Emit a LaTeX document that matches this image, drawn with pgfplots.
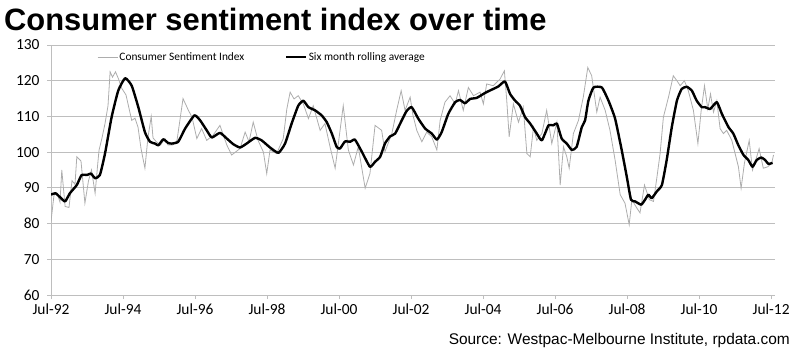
\documentclass[border=0pt]{standalone}
\usepackage{fontspec}
\setmainfont{Carlito}
\newfontfamily\arial{Liberation Sans}
\usepackage{pgfplots}
\pgfplotsset{compat=1.18}
\definecolor{gridc}{HTML}{BEBEBE}
\definecolor{csi}{HTML}{ADADAD}
\begin{document}
\begin{tikzpicture}[x=1bp,y=1bp]
\useasboundingbox (0,0) rectangle (800,354);
\begin{axis}[at={(51bp,59bp)}, anchor=south west, scale only axis,
  width=724bp, height=250bp,
  xmin=0, xmax=241.3, ymin=60, ymax=130,
  axis x line*=bottom, axis y line*=left,
  axis line style={gridc, line width=0.8bp},
  ytick={60,70,...,130}, ymajorgrids, grid style={gridc, line width=0.8bp},
  xtick={0,24,...,240},
  xticklabels={Jul-92,Jul-94,Jul-96,Jul-98,Jul-00,Jul-02,Jul-04,Jul-06,Jul-08,Jul-10,Jul-12},
  tick align=outside, major tick length=4bp,
  tick style={gridc, line width=0.8bp},
  /pgf/number format/assume math mode=true,
  tick label style={font=\fontsize{15.5}{17}\selectfont, black},
  yticklabel style={xshift=-4bp},
  xticklabel style={yshift=-1bp},
  legend columns=2,
  legend style={at={(rel axis cs:0.0635,0.952)}, anchor=west, draw=none, fill=none,
    font=\fontsize{11.4}{13}\selectfont, inner sep=0pt,
    nodes={inner sep=1.5bp},
    /tikz/every even column/.append style={column sep=39bp}},
  legend image code/.code={\draw[#1] (0bp,0bp) -- (20bp,0bp);},
]
\addplot[csi, line width=0.8bp] coordinates {
(0,80.6)(1,88)(2,88.5)(3,86)(3.6,95)(4.7,84.8)(6,84.5)(7,92)(8,91)(8.6,98.7)(10,97.5)(11.3,85.7)(12.5,92)(13.5,95)(14.7,88.5)(15.5,96)(16,100.5)(17,104)(18,108)(19,113)(19.7,122.5)(20.5,121)(21.5,122.5)(22.5,120.5)(23.5,118)(25,116)(26.9,108.9)(28,109.5)(29,107)(30,101)(31.3,95.5)(32.3,104)(33.4,110)(34,104)(35,103)(36.5,102)(38,103.8)(39,102)(40.5,102)(42,103.3)(44,115)(45.8,111.7)(47,109.8)(48.6,103.8)(50.2,106.6)(51.9,103.3)(54,104.7)(56.3,107.5)(58.6,102)(60.2,99.2)(63,101)(64.7,105.6)(66,102.9)(67.4,108.4)(69,103.3)(70.8,100)(71.9,94)(73,100.6)(75.2,99.6)(77.4,103.8)(78.6,112.1)(79.7,116.8)(81,114.9)(82.4,115.8)(84.1,113.5)(85.8,109.4)(87.4,113)(89.7,106.1)(91.3,108)(93,101.5)(94.7,95.5)(97.4,113)(99.1,100.6)(100.8,96.4)(102.4,101.5)(104.7,89.9)(106.3,94)(108,107.5)(110.2,106.1)(111.3,100.1)(113.6,105.2)(115.2,111.7)(116.7,117.2)(118,111.7)(119.7,115.4)(120.6,110.5)(121.9,106.1)(123.6,102.9)(125.2,105.6)(126.9,104.3)(128.6,100.6)(129.7,108.9)(131.3,114)(133,115.8)(134.7,113.5)(135.8,117.2)(137.4,111.7)(139.1,118.1)(140.8,115.8)(143,116.8)(144.1,113.5)(145.2,119.1)(147.4,118.6)(149.7,120.5)(151.1,122.8)(151.9,114.4)(152.7,104.3)(154.1,113.5)(155.8,108.4)(157.4,112.6)(158.6,99.6)(159.7,98.7)(160.8,107)(161.9,103.3)(163.6,105.2)(165.2,111.7)(166.9,102.4)(168.6,108.4)(169.7,90.8)(170.8,101.5)(171.9,98.7)(172.7,95.5)(174.1,105.2)(175.8,108.9)(177.4,115.4)(178.9,123.7)(180.2,121.4)(181.9,111.2)(183,115.4)(184.7,111.7)(186.3,106.1)(188,97.8)(189.7,88.1)(191.3,85.7)(192.7,79.7)(193.6,86.7)(195.2,84.4)(196.3,83)(197.8,90.8)(199.4,86.7)(200.8,86.2)(201.9,92.7)(203,99.6)(204.1,109.8)(205.8,115.4)(207.4,121.4)(208.6,120)(209.7,118.6)(211.1,120)(212.4,117.2)(214.1,111.7)(215.6,102.4)(216.7,111.7)(217.8,118.6)(218.9,112.1)(219.8,116.3)(220.8,111.2)(221.9,114.4)(223,106.6)(224.1,105.2)(225.2,106.1)(226.9,103.3)(228,99.6)(229.1,95.9)(230,89.9)(231.1,96.9)(232.7,103.3)(233.8,95)(235.2,98.7)(236,101)(237.4,95.5)(238.9,95.9)(240.2,96.9)(240.8,99.2)
};
\addlegendentry{Consumer Sentiment Index}
\addplot[black, line width=2.4bp, line join=round, smooth, tension=0.3] coordinates {
(0,88.1)(1.5,88.5)(3,87.4)(4.7,86.2)(6.3,88.5)(8.6,90.8)(10.2,93.6)(12,93.6)(13.3,94)(14.7,92.7)(16.3,93.6)(18,99.6)(20.2,109.8)(22.4,117.2)(24.7,120.7)(26.9,118.6)(29.1,112.6)(31.3,105.6)(33,102.9)(34.7,102.4)(35.8,101.9)(37.4,103.6)(39,102.6)(40.2,102.4)(42.4,102.9)(44.7,106.6)(47.8,110.3)(49.7,108.9)(51.9,106.1)(53.6,104.1)(56.3,105.4)(58.6,103.8)(60.8,102.2)(63,101.3)(65.2,102.4)(68,104)(70.2,103.3)(73,101.3)(75.8,99.8)(78,102.4)(80.2,108)(82.4,113)(84.1,114.4)(85.8,112.6)(88,111.7)(90.2,110.3)(91.9,108.4)(93.6,105.2)(95.2,101.5)(96.3,101)(98,103)(99.7,102.9)(101.3,103.5)(103.6,100.1)(106.3,95.9)(108,97.3)(109.7,98.7)(111.3,102.4)(113,104.4)(114.7,105.2)(116.9,108.9)(118.5,111.5)(120.2,112.6)(122.4,109.4)(124.7,106.6)(126.9,105.2)(128.6,103.5)(130.2,105.6)(132.4,110.7)(134.7,114)(136.3,114.6)(138,113.7)(139.7,114.9)(141.9,115.2)(144.7,116.6)(146.9,117.5)(149.1,118.4)(151.3,119.8)(153,116.3)(154.7,114.4)(156.3,113)(158,109.8)(159.7,108)(161.9,105.2)(163.6,103.3)(165.8,107.5)(167.4,107.5)(168.6,108)(170.2,103.8)(171.9,102.4)(173.6,100.6)(175.2,101.5)(176.9,107)(178,108.9)(179.1,114.4)(180.8,118.1)(183.6,118.1)(185.8,114.4)(188,109.4)(190.2,100.6)(191.9,93.1)(193.3,86.7)(194.7,86.2)(196.7,85.3)(198,86.7)(199.1,88.1)(200.2,87.1)(201.9,89)(203.6,90.8)(205.2,97.8)(206.9,107)(208.6,114.4)(210.2,117.7)(211.9,118.3)(213.6,117.2)(215.2,114.4)(216.9,112.6)(218,112.6)(219.7,112.1)(221.9,114)(223.6,110.7)(225.8,107)(227.4,105.2)(229.1,101.9)(230.8,99.2)(232.4,97.8)(233.8,95.9)(235.2,97.8)(236.7,98.5)(238,97.8)(239.1,96.7)(240.5,97)
};
\addlegendentry{Six month rolling average}
\end{axis}
\node[anchor=base west, font=\arial\bfseries\fontsize{31}{34}\selectfont, inner sep=0pt] at (4,324) {Consumer sentiment index over time};
\node[anchor=base east, font=\arial\fontsize{15.5}{18}\selectfont, inner sep=0pt] at (790,10) {Source: Westpac-Melbourne Institute, rpdata.com};
\end{tikzpicture}
\end{document}
